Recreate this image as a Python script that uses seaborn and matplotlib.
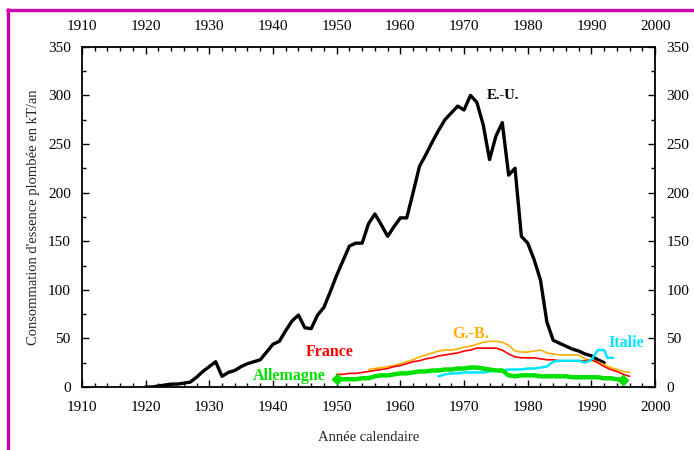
import matplotlib
matplotlib.use("Agg")
import matplotlib.pyplot as plt
from matplotlib.lines import Line2D
from matplotlib.ticker import MultipleLocator
import seaborn as sns

# ---- data (kT/an) ----
us_years = list(range(1920, 1993))
us_vals = [0, 0, 1, 2, 3, 3, 4, 5, 10, 16,
           21, 26, 11, 15, 17, 21, 24, 26, 28, 36,
           44, 47, 58, 68, 74, 61, 60, 74, 82, 98,
           115, 130, 145, 148, 148, 168, 178, 167, 155, 165,
           174, 174, 200, 227, 239, 252, 264, 275, 282, 289,
           285, 300, 293, 270, 234, 258, 272, 218, 225, 155,
           148, 131, 110, 67, 48, 45, 42, 39, 37, 34,
           32, 28, 25]

fr_years = list(range(1950, 1997))
fr_vals = [13, 13, 14, 14, 15, 16, 17, 18, 19, 21,
           22, 24, 26, 27, 29, 30, 32, 33, 34, 35,
           37, 38, 40, 40, 40, 40, 38, 34, 31, 30,
           30, 30, 29, 28, 28, 27, 27, 27, 27, 27,
           28, 25, 21, 18, 16, 13, 11]

gb_years = list(range(1955, 1997))
gb_vals = [18, 19, 20, 21, 22, 24, 26, 28, 31, 33,
           35, 37, 38, 38, 39, 41, 42, 44, 46, 47,
           47, 46, 43, 37, 36, 36, 37, 38, 35, 34,
           33, 33, 33, 33, 29, 27, 26, 23, 20, 18,
           16, 15]

it_years = [1966, 1967, 1968, 1969, 1970, 1971, 1972, 1973, 1974, 1975,
            1976, 1977, 1978, 1979, 1980, 1981, 1982, 1983, 1984, 1985,
            1986, 1987, 1988, 1989, 1990, 1991, 1992, 1992.5, 1993.4]
it_vals = [11, 13, 14, 14, 15, 15, 15, 15, 16, 17,
           17, 18, 18, 18, 19, 19, 20, 21, 26, 27,
           27, 27, 27, 25, 28, 38, 38, 30, 30]

de_years = list(range(1950, 1996))
de_vals = [8, 8, 8, 8, 9, 9, 11, 12, 12, 13,
           14, 14, 15, 16, 16, 17, 17, 18, 18, 19,
           19, 20, 20, 19, 18, 17, 17, 12, 11, 12,
           12, 12, 11, 11, 11, 11, 11, 10, 10, 10,
           10, 10, 9, 9, 8, 7]

labels = ["E.-U.", "G.-B.", "France", "Allemagne", "Italie"]
label_pos = [(1973.6, 300), (1968.1, 55), (1945.2, 36), (1936.8, 11), (1992.6, 45)]

x_ticks = list(range(1910, 2001, 10))
y_ticks = list(range(0, 351, 50))

# ---- style ----
sns.set_style("ticks")
plt.rcParams["font.family"] = ["Liberation Serif", "DejaVu Serif"]

fig = plt.figure(figsize=(6.94, 4.5), dpi=100)
ax = fig.add_axes([0.118, 0.14, 0.826, 0.756])

sns.lineplot(x=us_years, y=us_vals, ax=ax, color="black", lw=2.4)
sns.lineplot(x=gb_years, y=gb_vals, ax=ax, color="#FFB000", lw=1.2)
sns.lineplot(x=fr_years, y=fr_vals, ax=ax, color="#FF0000", lw=1.2)
sns.lineplot(x=it_years, y=it_vals, ax=ax, color="#00E5FF", lw=1.8)
sns.lineplot(x=de_years, y=de_vals, ax=ax, color="#00E000", lw=3.2)
ax.plot([de_years[0], de_years[-1]], [de_vals[0], de_vals[-1]], ls="none",
        marker="D", ms=5, color="#00E000")

label_colors = ["black", "#FFB000", "#FF0000", "#00E000", "#00E5FF"]
label_sizes = [10.5, 11.5, 11.5, 11.5, 11.5]
for txt, (lx, ly), c, fs in zip(labels, label_pos, label_colors, label_sizes):
    ax.text(lx, ly, txt, color=c, fontsize=fs, fontweight="bold",
            ha="left", va="center")

ax.set_xlim(1910, 2000)
ax.set_ylim(0, 350)
ax.set_xticks(x_ticks)
ax.set_yticks(y_ticks)
ax.xaxis.set_minor_locator(MultipleLocator(2))
ax.yaxis.set_minor_locator(MultipleLocator(25))
ax.tick_params(which="both", direction="in", top=True, right=True,
               labeltop=True, labelright=True, labelsize=11, colors="black",
               width=1)
ax.tick_params(which="major", length=5)
ax.tick_params(which="minor", length=3)
ax.tick_params(axis="x", which="major", pad=10)
ax.tick_params(axis="y", which="major", pad=8)
for s in ax.spines.values():
    s.set_visible(True)
    s.set_linewidth(1.3)
    s.set_color("black")

ax.set_xlabel("Année calendaire", fontsize=10.5, labelpad=12)
ax.set_ylabel("Consommation d'essence plombée en kT/an", fontsize=10.5, labelpad=6)

# magenta frame (left and top)
mag = "#CC00AA"
fig.add_artist(Line2D([7.5 / 694, 7.5 / 694], [0, 1 - 8 / 450], color=mag, lw=2.4,
                      transform=fig.transFigure, solid_capstyle="butt"))
fig.add_artist(Line2D([6 / 694, 1], [1 - 9.5 / 450, 1 - 9.5 / 450], color=mag, lw=2.4,
                      transform=fig.transFigure, solid_capstyle="butt"))

fig.savefig("out.png", dpi=100, facecolor="white")
